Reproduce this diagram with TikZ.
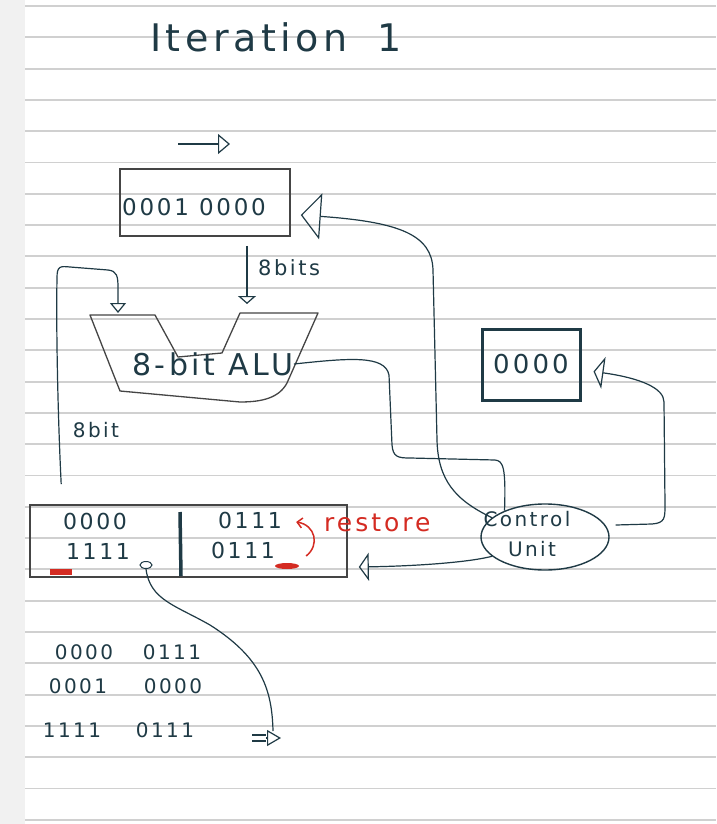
\documentclass[tikz,border=0pt]{standalone}
\usepackage{fontspec}
\usepackage{xcolor}
\usepackage{tikz}
\usetikzlibrary{arrows.meta,positioning,calc,shapes.geometric}
\newfontfamily\handfont[LetterSpace=12]{DejaVu Sans}
\definecolor{ink}{HTML}{1F3A45}
\definecolor{framegray}{HTML}{454545}
\definecolor{redink}{HTML}{D42B22}
\definecolor{rulegray}{HTML}{D0D0D0}
\definecolor{margingray}{HTML}{F1F1F1}
\tikzset{
  hand/.style={font=\handfont\fontsize{#1}{#1}\selectfont, text=ink, inner sep=0pt},
  hand/.default=20,
  regbox/.style={draw=framegray, line width=1.6pt, inner sep=0pt},
  valbox/.style={draw=ink, line width=3pt, inner sep=0pt},
  unitnode/.style={draw=ink, ellipse, line width=1.4pt, inner sep=0pt},
  wire/.style={draw=ink, line width=1.2pt},
  tipto/.style 2 args={-{Triangle[open, length=#1, width=#2, line width=1.2pt]}},
  rule/.style={draw=rulegray, line width=1.9pt}
}
\begin{document}
\begin{tikzpicture}[x=1pt, y=-1pt]
  % paper
  \fill[white] (0,0) rectangle (716,824);
  \fill[margingray] (0,0) rectangle (25,824);
  \useasboundingbox (0,0) rectangle (716,824);
  \foreach \k in {0,...,26}
    \draw[rule] (25,6+31.3*\k) -- (716,6+31.3*\k);

  \node[hand=38, anchor=west] (title) at (150,37) {Iteration\hspace{30pt}1};

  % top register
  \coordinate (inA) at (178,144);
  \coordinate (inB) at (230,144);
  \node[regbox, minimum width=170pt, minimum height=67pt] (mbox) at (205,202.5) {};
  \node[hand=23, anchor=west] (mtxt) at (122,207) {0001 0000};
  \node[hand=21, anchor=west] (bitsA) at (258,268) {8bits};

  % alu
  \coordinate (aluL) at (118,313);
  \coordinate (aluR) at (247,304);
  \draw[draw=framegray, line width=1.3pt, line join=round] (90,315) -- (155,315) -- (178,357) -- (222,353) -- (240,313) -- (318,313) -- (287,383) .. controls (279,398) and (262,402) .. (240,402) -- (120,391) -- cycle;
  \node[hand=30] (alu) at (213,364) {8-bit ALU};
  \node[hand=20] (bitsB) at (96,430) {8bit};

  \node[valbox, minimum width=98pt, minimum height=71pt, hand=26] (cnt) at (531,364.5) {0000};

  % product register
  \node[regbox, minimum width=317pt, minimum height=72pt] (reg) at (188.5,541) {};
  \node[hand=22] (hiA) at (95,521) {0000};
  \node[hand=22] (loA) at (98,551) {1111};
  \node[hand=22] (hiB) at (250,520) {0111};
  \node[hand=22] (loB) at (243,550) {0111};
  \draw[ink, line width=3.5pt] (180,512) -- (181,576);
  \fill[redink] (50,569) rectangle (72,575);
  \fill[redink] (287,566) ellipse [x radius=12, y radius=3];
  \node[draw=ink, ellipse, line width=1pt, minimum width=12pt, minimum height=7pt, inner sep=0pt] (pick) at (146,565) {};
  \node[hand=25, text=redink, anchor=west] (restore) at (324,523) {restore};
  \draw[redink, line width=1.5pt, -{Straight Barb[length=5pt]}] ($(loB.east)+(31,6)$) .. controls ($(loB.east)+(45,-5)$) and ($(hiB.east)+(33,5)$) .. ($(hiB.east)+(14,2)$);

  % control unit
  \node[unitnode, minimum width=128pt, minimum height=66pt] (cu) at (545,537) {};
  \node[hand=20] (cuA) at (527,519) {Control};
  \node[hand=20] (cuB) at (532,549) {Unit};

  % worked rows
  \node[hand=20] (rowA) at (84,652) {0000};
  \node[hand=20] (rowAb) at (172,652) {0111};
  \node[hand=20] (rowB) at (78,686) {0001};
  \node[hand=20] (rowBb) at (173,686) {0000};
  \node[hand=20] (rowC) at (72,730) {1111};
  \node[hand=20] (rowCb) at (165,730) {0111};
  \coordinate (outL) at (252,738);
  \coordinate (outM) at (266,738);
  \coordinate (outR) at (281,738);
  \coordinate (outTop) at (273,731);

  % connectors
  \draw[wire, tipto={12pt}{20pt}] (inA) -- (inB);
  \draw[wire, tipto={8pt}{18pt}] ($(mbox.south)+(42,9)$) -- (aluR);
  \draw[wire, tipto={10pt}{16pt}] ($(reg.north west)+(32,-20)$) .. controls (58,420) and (56,330) .. (57,278) .. controls (57,266) and (60,266) .. (70,267) -- (108,270) .. controls (117,271) and (118,276) .. (118,288) -- (aluL);
  \draw[wire, tipto={20pt}{46pt}] (cu.160) .. controls (455,500) and (438,480) .. (437,440) -- (433,270) .. controls (432,235) and (400,222) .. ($(mbox.east)+(10,12.5)$);
  \draw[wire] (alu.east) .. controls (350,358) and (385,355) .. (389,375) -- (392,445) .. controls (393,457) and (398,458) .. (410,458) -- (495,460) .. controls (503,461) and (506,466) .. (cu.147);
  \draw[wire, tipto={10pt}{32pt}] ($(cu.east)+(6,-12)$) -- (652,524) .. controls (665,523) and (665,518) .. (665,505) -- (664,402) .. controls (664,388) and (640,378) .. ($(cnt.east)+(12,7)$);
  \draw[wire, tipto={10pt}{28pt}] (cu.200) .. controls (470,562) and (420,566) .. ($(reg.east)+(11,26)$);
  \draw[wire] (pick.south) .. controls (150,600) and (175,605) .. (210,625) .. controls (262,658) and (272,690) .. (outTop);
  \draw[wire] ($(outL)+(0,-3)$) -- ($(outM)+(0,-3)$);
  \draw[wire] ($(outL)+(0,3)$) -- ($(outM)+(0,3)$);
  \draw[wire, tipto={14pt}{16pt}] (outM) -- (outR);
\end{tikzpicture}
\end{document}
